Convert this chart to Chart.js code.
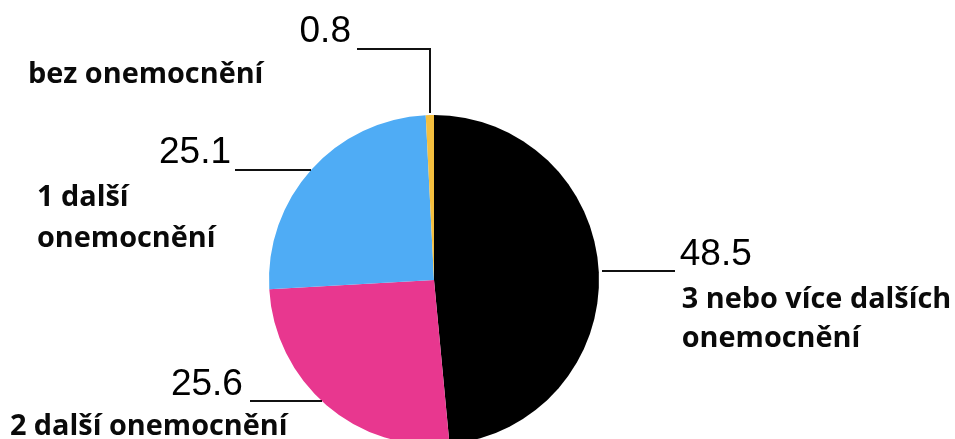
<!DOCTYPE html>
<html>
<head>
<meta charset="utf-8">
<script src="https://cdn.jsdelivr.net/npm/chart.js@4/dist/chart.umd.min.js"></script>
<style>
  html, body { margin: 0; padding: 0; background: #fff; width: 955px; height: 439px; overflow: hidden; }
  #wrap { width: 955px; height: 460px; }
</style>
</head>
<body>
<div id="wrap"><canvas id="c" width="955" height="460"></canvas></div>
<script>
// ---- data ----
const categories = [
  ['3 nebo více dalších', 'onemocnění'],
  ['2 další onemocnění'],
  ['1 další', 'onemocnění'],
  ['bez onemocnění']
];
const values = [48.5, 25.6, 25.1, 0.8];
const valueLabels = ['48.5', '25.6', '25.1', '0.8'];
const colors = ['#000000', '#e8378f', '#4facf5', '#f4bf3f'];

// ---- annotation layout (leader lines / label placement, relative to anchor on the rim) ----
const leaderLayout = [
  { angle: 86.9,  path: [[3, 0], [76, 0]],                 num: { dx: 81,  dy: -6,  align: 'left'  }, cat: { dx: 83,   dy: 37,  lh: 39 } },
  { angle: 222.8, path: [[0, 0], [-72, 0]],                num: { dx: -79, dy: -6,  align: 'right' }, cat: { dx: -312, dy: 34,  lh: 35 } },
  { angle: 311.8, path: [[0, 0], [-76, 0]],                num: { dx: -80, dy: -7,  align: 'right' }, cat: { dx: -274, dy: 36,  lh: 41 } },
  { angle: 358.6, path: [[0, -2], [0, -66], [-73, -66]],   num: { dx: -79, dy: -73, align: 'right' }, cat: { dx: -402, dy: -32, lh: 35 } }
];

const labelPlugin = {
  id: 'leaderLabels',
  afterDraw(chart) {
    const ctx = chart.ctx;
    const meta = chart.getDatasetMeta(0);
    const arc0 = meta.data[0];
    const cx = arc0.x, cy = arc0.y, r = arc0.outerRadius;
    ctx.save();
    leaderLayout.forEach((L, i) => {
      const a = L.angle * Math.PI / 180;
      const ax = cx + r * Math.sin(a);
      const ay = cy - r * Math.cos(a);
      // leader line
      ctx.beginPath();
      ctx.strokeStyle = '#111';
      ctx.lineWidth = 2;
      L.path.forEach((p, k) => {
        const px = Math.round(ax + p[0]), py = Math.round(ay + p[1]);
        if (k === 0) ctx.moveTo(px, py); else ctx.lineTo(px, py);
      });
      ctx.stroke();
      // value
      ctx.fillStyle = '#000';
      ctx.font = '37px "Liberation Sans", Arial, sans-serif';
      ctx.textAlign = L.num.align;
      ctx.textBaseline = 'alphabetic';
      ctx.fillText(valueLabels[i], ax + L.num.dx, ay + L.num.dy);
      // category
      ctx.font = 'bold 28px "Open Sans", sans-serif';
      ctx.textAlign = 'left';
      ctx.fillStyle = '#0a0a0a';
      categories[i].forEach((line, k) => {
        ctx.save();
        ctx.translate(ax + L.cat.dx, ay + L.cat.dy + k * L.cat.lh);
        ctx.scale(1.03, 1);
        ctx.fillText(line, 0, 0);
        ctx.restore();
      });
    });
    ctx.restore();
  }
};

new Chart(document.getElementById('c'), {
  type: 'pie',
  data: {
    labels: categories,
    datasets: [{
      data: values,
      backgroundColor: colors,
      borderWidth: 0
    }]
  },
  options: {
    responsive: false,
    animation: false,
    layout: { padding: { left: 269, right: 356, top: 115, bottom: 15 } },
    plugins: {
      legend: { display: false },
      tooltip: { enabled: false }
    }
  },
  plugins: [labelPlugin]
});
</script>
</body>
</html>
